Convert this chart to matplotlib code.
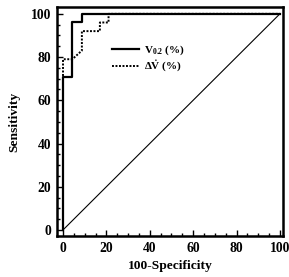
import matplotlib.pyplot as plt
from matplotlib.ticker import MultipleLocator

# ROC curves
v02_x = [0, 0, 4.3, 4.3, 8.7, 8.7, 100]
v02_y = [0, 71, 71, 96, 96, 100, 100]
dv_x = [0, 0, 4.3, 8.7, 8.7, 17, 17, 21, 21, 100]
dv_y = [0, 79, 79, 83, 92, 92, 96, 96, 100, 100]
ref_x = [0, 100]
ref_y = [0, 100]

plt.rcParams['font.family'] = ['Liberation Serif', 'DejaVu Serif']
plt.rcParams['font.weight'] = 'bold'
plt.rcParams['mathtext.fontset'] = 'custom'
plt.rcParams['mathtext.rm'] = 'Liberation Serif:bold'
plt.rcParams['mathtext.it'] = 'Liberation Serif:bold'
plt.rcParams['mathtext.bf'] = 'Liberation Serif:bold'

fig = plt.figure(figsize=(2.89, 2.77), dpi=100)
ax = fig.add_axes([0.197, 0.148, 0.782, 0.827])

ax.plot(v02_x, v02_y, color='black', lw=1.6, label='V$_{0.2}$ (%)')
ax.plot(dv_x, dv_y, color='black', lw=1.4, ls=(0, (1, 0.8)), label=r'$\Delta\dot{V}$ (%)')
ax.plot(ref_x, ref_y, color='black', lw=0.8)

ax.set_xlim(-2.8, 101.4)
ax.set_ylim(-2.8, 103.2)
ax.xaxis.set_major_locator(MultipleLocator(20))
ax.xaxis.set_minor_locator(MultipleLocator(5))
ax.yaxis.set_major_locator(MultipleLocator(20))
ax.yaxis.set_minor_locator(MultipleLocator(5))
ax.tick_params(which='both', direction='in', labelsize=9.8, width=1)
ax.tick_params(which='major', length=4, pad=4)
ax.tick_params(which='minor', length=2)
for s in ax.spines.values():
    s.set_linewidth(1.8)

ax.set_xlabel('100-Specificity', fontsize=9.7, fontweight='bold', labelpad=4)
ax.set_ylabel('Sensitivity', fontsize=9.7, fontweight='bold', labelpad=8)

ax.legend(loc='upper left', bbox_to_anchor=(0.20, 0.885), frameon=False,
          fontsize=8, handlelength=2.4, handletextpad=0.45, labelspacing=0.15)

fig.savefig('out.png', dpi=100)
